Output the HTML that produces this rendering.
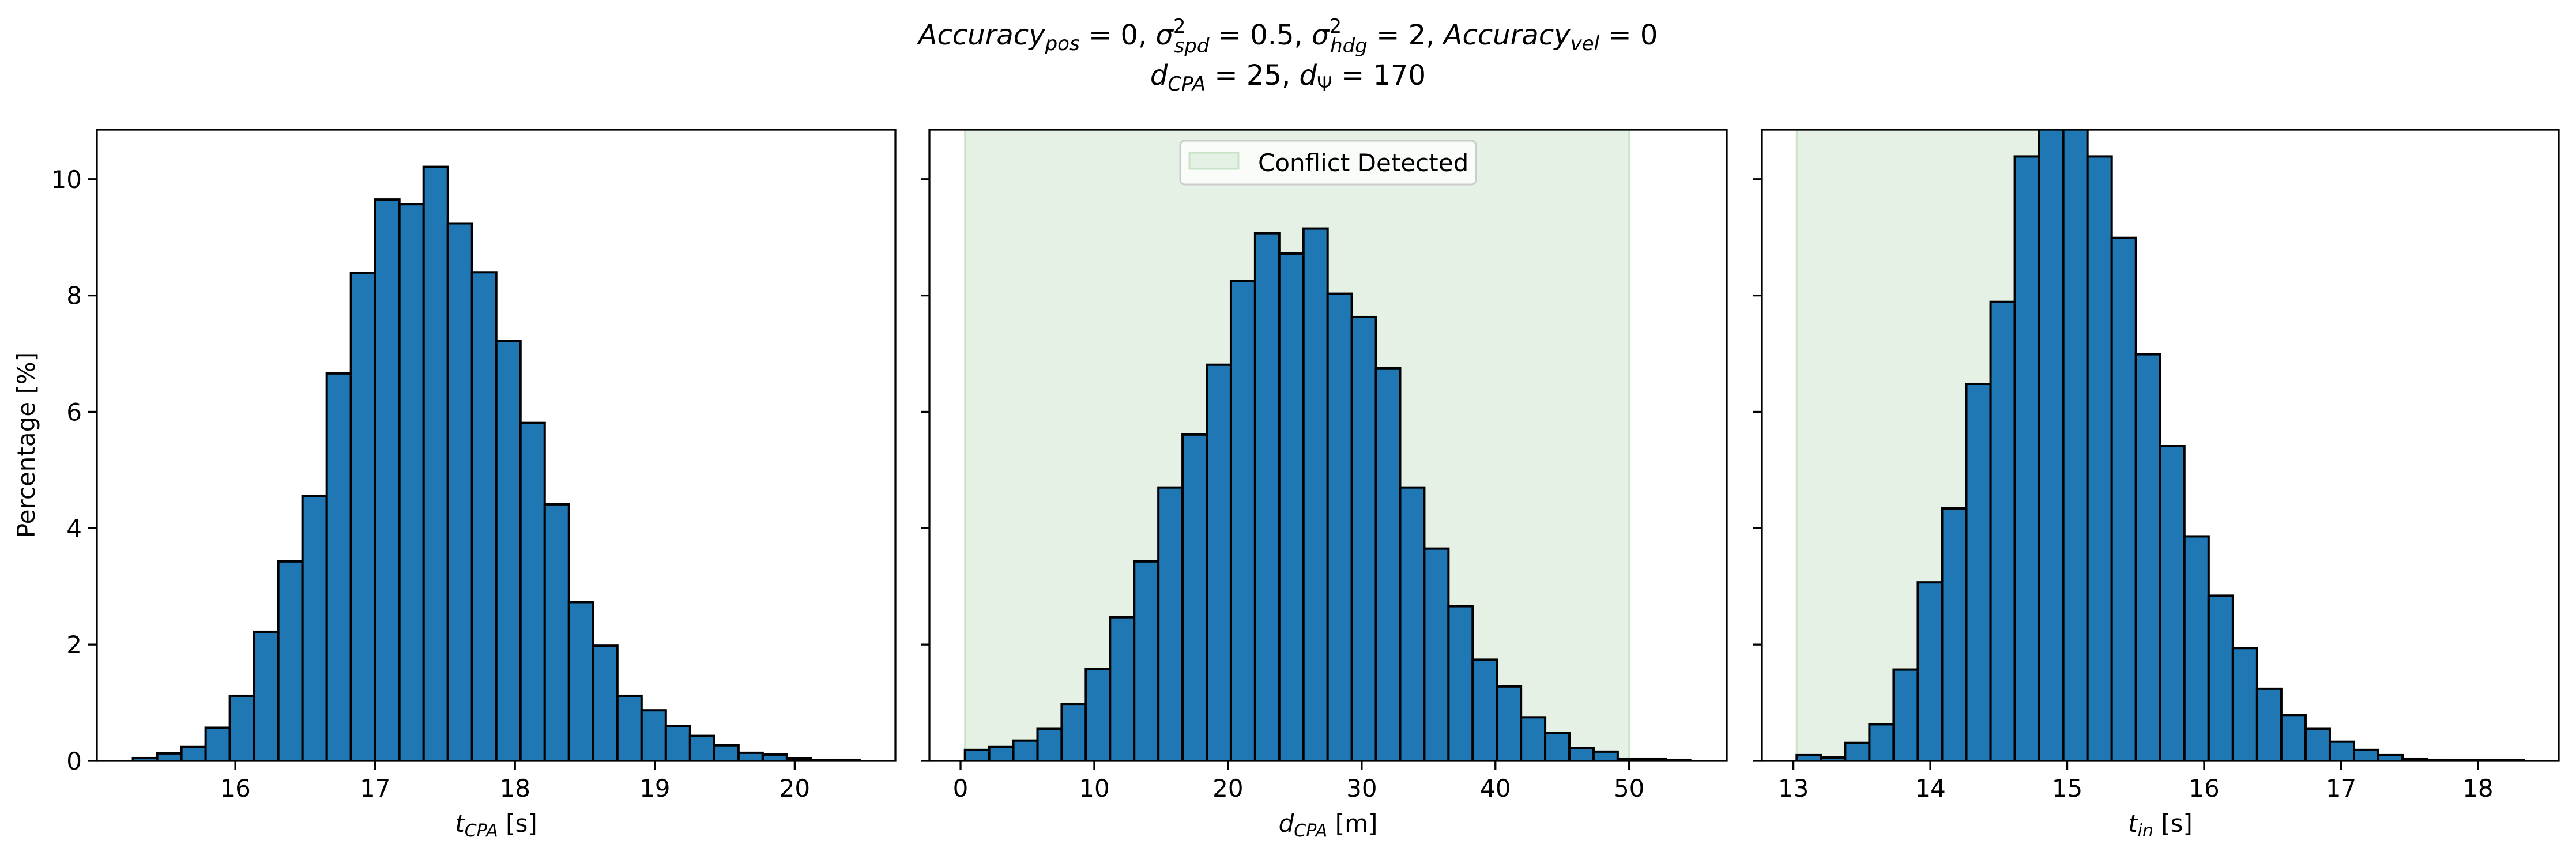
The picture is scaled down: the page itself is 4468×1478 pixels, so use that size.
<!DOCTYPE html>
<html><head><meta charset="utf-8">
<style>
html,body{margin:0;padding:0;background:#fff;}
svg{display:block;}
text{font-family:"DejaVu Sans","Liberation Sans",sans-serif;fill:#000;}
.it{font-style:italic;}
</style></head>
<body>
<svg id="fig" xmlns="http://www.w3.org/2000/svg" width="4468" height="1478" viewBox="0 0 4468 1478">
<rect width="4468" height="1478" fill="#fff"/>
<g>
<text x="2234" y="77" text-anchor="middle" font-size="48"><tspan class="it">Accuracy</tspan><tspan class="it" font-size="34" dy="10">pos</tspan><tspan dy="-10"> = 0, </tspan><tspan class="it">σ</tspan><tspan font-size="34" dy="-20">2</tspan><tspan class="it" font-size="34" dx="-20" dy="34">spd</tspan><tspan dy="-14"> = 0.5, </tspan><tspan class="it">σ</tspan><tspan font-size="34" dy="-20">2</tspan><tspan class="it" font-size="34" dx="-20" dy="34">hdg</tspan><tspan dy="-14"> = 2, </tspan><tspan class="it">Accuracy</tspan><tspan class="it" font-size="34" dy="10">vel</tspan><tspan dy="-10"> = 0</tspan></text>
<text x="2234" y="147" text-anchor="middle" font-size="48"><tspan class="it">d</tspan><tspan class="it" font-size="34" dy="10">CPA</tspan><tspan dy="-10"> = 25, </tspan><tspan class="it">d</tspan><tspan font-size="34" dy="10">Ψ</tspan><tspan dy="-10"> = 170</tspan></text>
</g>
<g id="plots"></g>
<text x="0" y="0" font-size="42" text-anchor="middle" transform="translate(60,772) rotate(-90)">Percentage [%]</text>
</svg>
<script>
const yMax = 10.85;
const yTicks = [0, 2, 4, 6, 8, 10];

const tcpaStart = 15.268, tcpaWidth = 0.1732;
const tcpaValues = [0.05,0.13,0.24,0.57,1.12,2.22,3.43,4.55,6.66,8.39,9.65,9.57,10.21,9.24,8.40,7.22,5.81,4.41,2.73,1.98,1.12,0.87,0.60,0.43,0.27,0.14,0.11,0.04,0.01,0.02];
const tcpaTicks = [16, 17, 18, 19, 20];
const tcpaDomain = [15.01, 20.72];

const dcpaStart = 0.33, dcpaWidth = 1.808;
const dcpaValues = [0.19,0.24,0.35,0.55,0.98,1.58,2.47,3.43,4.70,5.61,6.81,8.25,9.07,8.72,9.15,8.03,7.63,6.75,4.70,3.65,2.66,1.74,1.28,0.75,0.48,0.22,0.16,0.03,0.03,0.02];
const dcpaTicks = [0, 10, 20, 30, 40, 50];
const dcpaDomain = [-2.33, 57.3];
const dcpaShade = [0.33, 50];

const tinStart = 13.024, tinWidth = 0.177;
const tinValues = [0.10,0.06,0.31,0.63,1.57,3.07,4.34,6.48,7.89,10.39,11.1,11.0,10.39,8.99,6.99,5.41,3.86,2.84,1.94,1.24,0.79,0.55,0.33,0.19,0.10,0.03,0.02,0.01,0.01,0.01];
const tinTicks = [13, 14, 15, 16, 17, 18];
const tinDomain = [12.77, 18.59];
const tinShade = [13.024, 14.9];

const NS = 'http://www.w3.org/2000/svg';
const plots = document.getElementById('plots');
const TOP = 225, BOT = 1320;
function mk(tag, attrs, parent){const e=document.createElementNS(NS,tag);for(const k in attrs)e.setAttribute(k,attrs[k]);parent.appendChild(e);return e;}

function panel(idx, left, right, domain, start, width, values, ticks, label, sub, unit, shade, showY){
  const g = mk('g', {}, plots);
  
  
  const xs = v => left + (v - domain[0]) / (domain[1] - domain[0]) * (right - left);
  const ys = v => BOT - v / yMax * (BOT - TOP);
  const cid = 'clip' + idx;
  const cp = mk('clipPath', {id: cid}, g);
  mk('rect', {x: left, y: TOP, width: right - left, height: BOT - TOP}, cp);
  const inner = mk('g', {'clip-path': 'url(#' + cid + ')'}, g);
  if (shade) {
    const r = mk('rect', {x: xs(shade[0]), y: TOP, width: xs(shade[1]) - xs(shade[0]), height: BOT - TOP, fill: '#e5f1e5', stroke: '#c8e4c8', 'stroke-width': 3}, inner);
    
    
  }
  values.forEach((v, i) => {
    const x0 = xs(start + i * width), x1 = xs(start + (i + 1) * width);
    const r = mk('rect', {x: x0, y: ys(v), width: x1 - x0, height: BOT - ys(v), fill: '#1f77b4', stroke: '#000', 'stroke-width': 4}, inner);
    
    
  });
  const fr = mk('rect', {x: left, y: TOP, width: right - left, height: BOT - TOP, fill: 'none', stroke: '#000', 'stroke-width': 3.3}, g);
  
  
  ticks.forEach(t => {
    mk('line', {x1: xs(t), x2: xs(t), y1: BOT, y2: BOT + 15, stroke: '#000', 'stroke-width': 3.3}, g);
    const tx = mk('text', {x: xs(t), y: 1382, 'font-size': 42, 'text-anchor': 'middle'}, g);
    tx.textContent = t;
    
    
  });
  yTicks.forEach(t => {
    mk('line', {x1: left - 15, x2: left, y1: ys(t), y2: ys(t), stroke: '#000', 'stroke-width': 3.3}, g);
    if (showY) {
      const tx = mk('text', {x: left - 26, y: ys(t) + 15, 'font-size': 42, 'text-anchor': 'end'}, g);
      tx.textContent = t;
      
      
    }
  });
  const xl = mk('text', {x: (left + right) / 2, y: 1443, 'font-size': 42, 'text-anchor': 'middle'}, g);
  
  
  const a = mk('tspan', {'font-style': 'italic'}, xl); a.textContent = label;
  const b = mk('tspan', {'font-style': 'italic', 'font-size': 30, dy: 8}, xl); b.textContent = sub;
  const c = mk('tspan', {dy: -8}, xl); c.textContent = ' ' + unit;
  return g;
}
panel(1, 168, 1553, tcpaDomain, tcpaStart, tcpaWidth, tcpaValues, tcpaTicks, 't', 'CPA', '[s]', null, true);
const g2 = panel(2, 1612, 2995, dcpaDomain, dcpaStart, dcpaWidth, dcpaValues, dcpaTicks, 'd', 'CPA', '[m]', dcpaShade, false);
panel(3, 3056, 4438, tinDomain, tinStart, tinWidth, tinValues, tinTicks, 't', 'in', '[s]', tinShade, false);

const lg = mk('g', {}, g2);


mk('rect', {x: 2047, y: 244, width: 513, height: 76, rx: 8, fill: '#fff', 'fill-opacity': 0.8, stroke: '#ccc', 'stroke-width': 3}, lg);
mk('rect', {x: 2063, y: 265, width: 85, height: 28, fill: '#e5f1e5', stroke: '#c8e4c8', 'stroke-width': 3}, lg);
const lt = mk('text', {x: 2182, y: 297, 'font-size': 42}, lg);
lt.textContent = 'Conflict Detected';


</script>
</body></html>
